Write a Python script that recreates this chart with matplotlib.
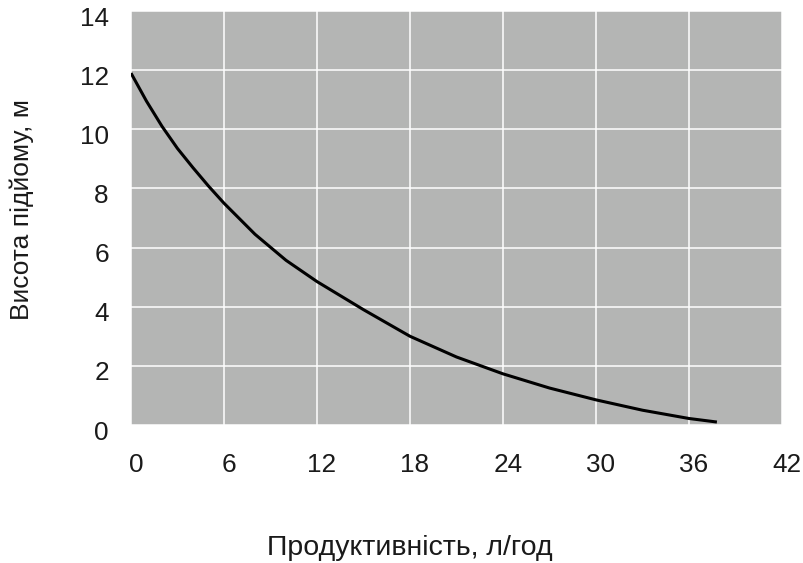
import matplotlib
matplotlib.use("Agg")
import matplotlib.pyplot as plt
from matplotlib.transforms import ScaledTranslation

plt.rcParams['font.family'] = ['Liberation Sans', 'DejaVu Sans']

# дані кривої
flow = [0, 1, 2, 3, 4, 5, 6, 8, 10, 12, 15, 18, 21, 24, 27, 30, 33, 36, 37.8]
head = [11.9, 10.95, 10.1, 9.35, 8.7, 8.08, 7.5, 6.45, 5.57, 4.85, 3.9, 3.0, 2.3, 1.73, 1.25, 0.85, 0.5, 0.22, 0.1]

x_ticks = [0, 6, 12, 18, 24, 30, 36, 42]
y_ticks = [0, 2, 4, 6, 8, 10, 12, 14]

fig = plt.figure(figsize=(8.04, 5.63), dpi=100)
ax = fig.add_axes([131 / 804, 1 - 425 / 563, (782 - 131) / 804, (425 - 11) / 563])
ax.set_facecolor('#b4b5b4')

ax.plot(flow, head, color='black', lw=2.2, solid_capstyle='butt', solid_joinstyle='round', zorder=3)

ax.set_xlim(0, 42)
ax.set_ylim(0, 14)
ax.set_xticks(x_ticks)
ax.set_yticks(y_ticks)
ax.grid(True, color='white', lw=1.1)
ax.set_axisbelow(True)
for s in ax.spines.values():
    s.set_visible(False)

ax.tick_params(axis='both', length=0, labelsize=18.8, colors='#1a1a1a')
ax.tick_params(axis='x', pad=20)
ax.tick_params(axis='y', pad=16)

# невеликий зсув підписів, як в оригіналі
for lbl in ax.get_xticklabels():
    lbl.set_transform(lbl.get_transform() + ScaledTranslation(5 / 100, 0, fig.dpi_scale_trans))
for lbl in ax.get_yticklabels():
    lbl.set_transform(lbl.get_transform() + ScaledTranslation(0, -5 / 100, fig.dpi_scale_trans))

ax.set_xlabel('Продуктивність, л/год', fontsize=20.5, color='#1a1a1a', labelpad=42, x=0.428)
ax.set_ylabel('Висота підйому, м', fontsize=19, color='#1a1a1a', labelpad=33, y=0.52)

fig.savefig('out.png', dpi=100)
